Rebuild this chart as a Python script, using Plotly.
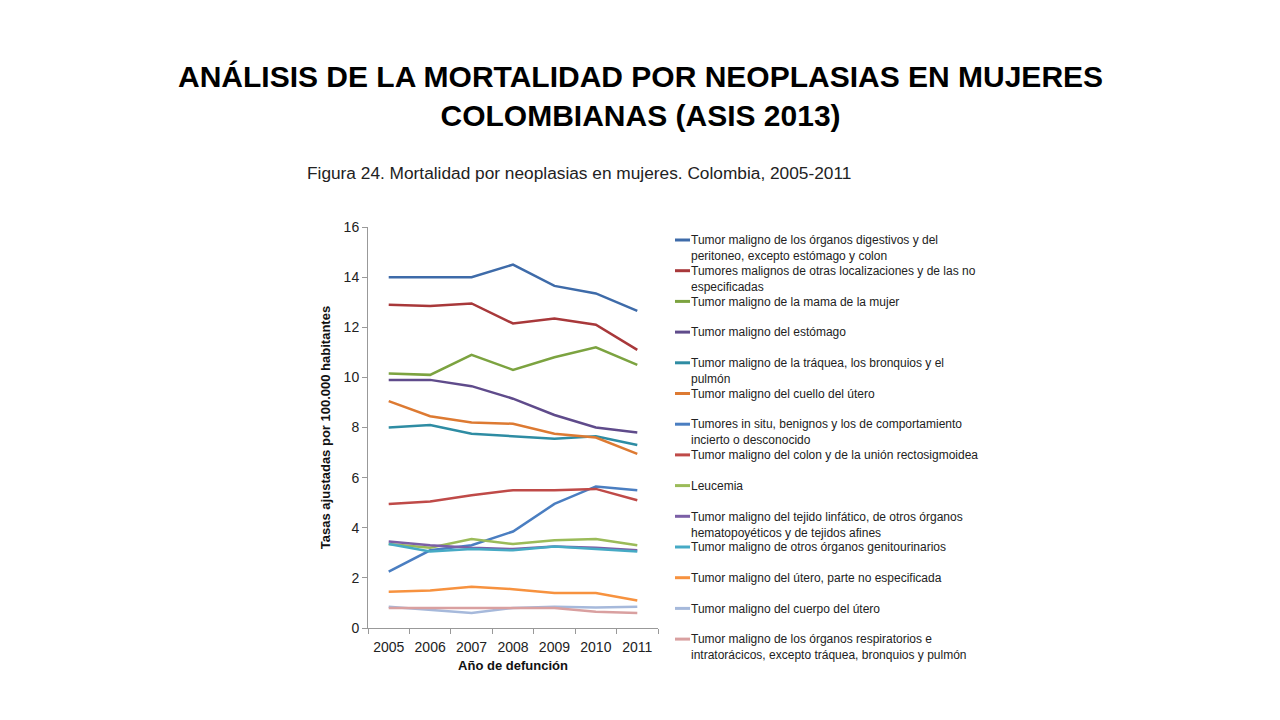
import plotly.graph_objects as go

years = ["2005", "2006", "2007", "2008", "2009", "2010", "2011"]

names = [
    "Tumor maligno de los órganos digestivos y del<br>peritoneo, excepto estómago y colon",
    "Tumores malignos de otras localizaciones y de las no<br>especificadas",
    "Tumor maligno de la mama de la mujer",
    "Tumor maligno del estómago",
    "Tumor maligno de la tráquea, los bronquios y el<br>pulmón",
    "Tumor maligno del cuello del útero",
    "Tumores in situ, benignos y los de comportamiento<br>incierto o desconocido",
    "Tumor maligno del colon y de la unión rectosigmoidea",
    "Leucemia",
    "Tumor maligno del tejido linfático, de otros órganos<br>hematopoyéticos y de tejidos afines",
    "Tumor maligno de otros órganos genitourinarios",
    "Tumor maligno del útero, parte no especificada",
    "Tumor maligno del cuerpo del útero",
    "Tumor maligno de los órganos respiratorios e<br>intratorácicos, excepto tráquea, bronquios y pulmón",
]

digestivos = [14.0, 14.0, 14.0, 14.5, 13.65, 13.35, 12.65]
otras = [12.9, 12.85, 12.95, 12.15, 12.35, 12.1, 11.1]
mama = [10.15, 10.1, 10.9, 10.3, 10.8, 11.2, 10.5]
estomago = [9.9, 9.9, 9.65, 9.15, 8.5, 8.0, 7.8]
traquea = [8.0, 8.1, 7.75, 7.65, 7.55, 7.65, 7.3]
cuello = [9.05, 8.45, 8.2, 8.15, 7.75, 7.6, 6.95]
in_situ = [2.25, 3.1, 3.3, 3.85, 4.95, 5.65, 5.5]
colon = [4.95, 5.05, 5.3, 5.5, 5.5, 5.55, 5.1]
leucemia = [3.35, 3.2, 3.55, 3.35, 3.5, 3.55, 3.3]
linfatico = [3.45, 3.3, 3.2, 3.15, 3.25, 3.2, 3.1]
genitourinarios = [3.35, 3.05, 3.15, 3.1, 3.25, 3.15, 3.05]
utero_ne = [1.45, 1.5, 1.65, 1.55, 1.4, 1.4, 1.1]
cuerpo_utero = [0.85, 0.72, 0.6, 0.8, 0.85, 0.82, 0.85]
respiratorios = [0.8, 0.8, 0.8, 0.8, 0.8, 0.65, 0.6]

series = [digestivos, otras, mama, estomago, traquea, cuello, in_situ, colon,
          leucemia, linfatico, genitourinarios, utero_ne, cuerpo_utero, respiratorios]

colors = ["#3E6BA9", "#A8383A", "#7CA340", "#5F4B8B", "#2E8CA3", "#DD7A32", "#4A7EC1",
          "#BF4A48", "#9BBB59", "#7B5FA6", "#46AAC5", "#F7923F", "#A6B9DB", "#D9A0A0"]

FONT = "Liberation Sans, Arial, sans-serif"

# plot area in figure pixels (page is offset by the 8px body margin)
PL, PR, PT, PB = 360, 650, 219, 620
PW, PH = PR - PL, PB - PT


def px(x):
    return (x - PL) / PW


def py(y):
    return (PB - y) / PH


fig = go.Figure()
for name, vals, col in zip(names, series, colors):
    fig.add_trace(go.Scatter(x=years, y=vals, mode="lines", name=name.replace("<br>", " "),
                             line=dict(color=col, width=2.5), showlegend=False))

fig.update_layout(
    width=1280, height=720,
    paper_bgcolor="white", plot_bgcolor="white",
    margin=dict(l=PL, r=1280 - PR, t=PT, b=720 - PB),
    showlegend=False,
    font=dict(family=FONT, color="#222222"),
)

fig.update_xaxes(type="category", tickson="boundaries", ticks="outside", ticklen=5,
                 tickcolor="#999999", showline=True, linecolor="#999999", linewidth=1,
                 showgrid=False, range=[-0.5, 6.5], tickangle=0, ticklabelstandoff=6,
                 tickfont=dict(family=FONT, size=14, color="#222222"),
                 title=dict(text="<b>Año de defunción</b>", standoff=7,
                            font=dict(family=FONT, size=13, color="#111111")))
fig.update_yaxes(range=[0, 16], dtick=2, ticks="outside", ticklen=5,
                 tickcolor="#999999", showline=True, linecolor="#999999", linewidth=1,
                 showgrid=False, zeroline=False,
                 tickfont=dict(family=FONT, size=14, color="#222222"),
                 title=dict(text="<b>Tasas ajustadas por 100.000 habitantes</b>", standoff=10,
                            font=dict(family=FONT, size=13, color="#111111")))

# legend (key line + text), laid out like the original figure
LEG_Y0, LEG_STEP = 232, 30.7
for i, (name, col) in enumerate(zip(names, colors)):
    yc = LEG_Y0 + i * LEG_STEP
    fig.add_shape(type="line", xref="paper", yref="paper",
                  x0=px(667), x1=px(682), y0=py(yc), y1=py(yc),
                  line=dict(color=col, width=3))
    fig.add_annotation(text=name, xref="paper", yref="paper",
                       x=px(681), y=py(yc - 8.8), xanchor="left", yanchor="top",
                       align="left", showarrow=False,
                       font=dict(family=FONT, size=12, color="#222222"))

fig.add_annotation(text="<b>ANÁLISIS DE LA MORTALIDAD POR NEOPLASIAS EN MUJERES<br>COLOMBIANAS (ASIS 2013)</b>",
                   xref="paper", yref="paper", x=px(632), y=py(88),
                   xanchor="center", yanchor="middle", showarrow=False,
                   font=dict(family=FONT, size=30, color="#000000"))
fig.add_annotation(text="Figura 24. Mortalidad por neoplasias en mujeres. Colombia, 2005-2011",
                   xref="paper", yref="paper", x=px(297), y=py(165),
                   xanchor="left", yanchor="middle", showarrow=False,
                   font=dict(family=FONT, size=17.3, color="#222222"))

fig.write_html("out.html")
